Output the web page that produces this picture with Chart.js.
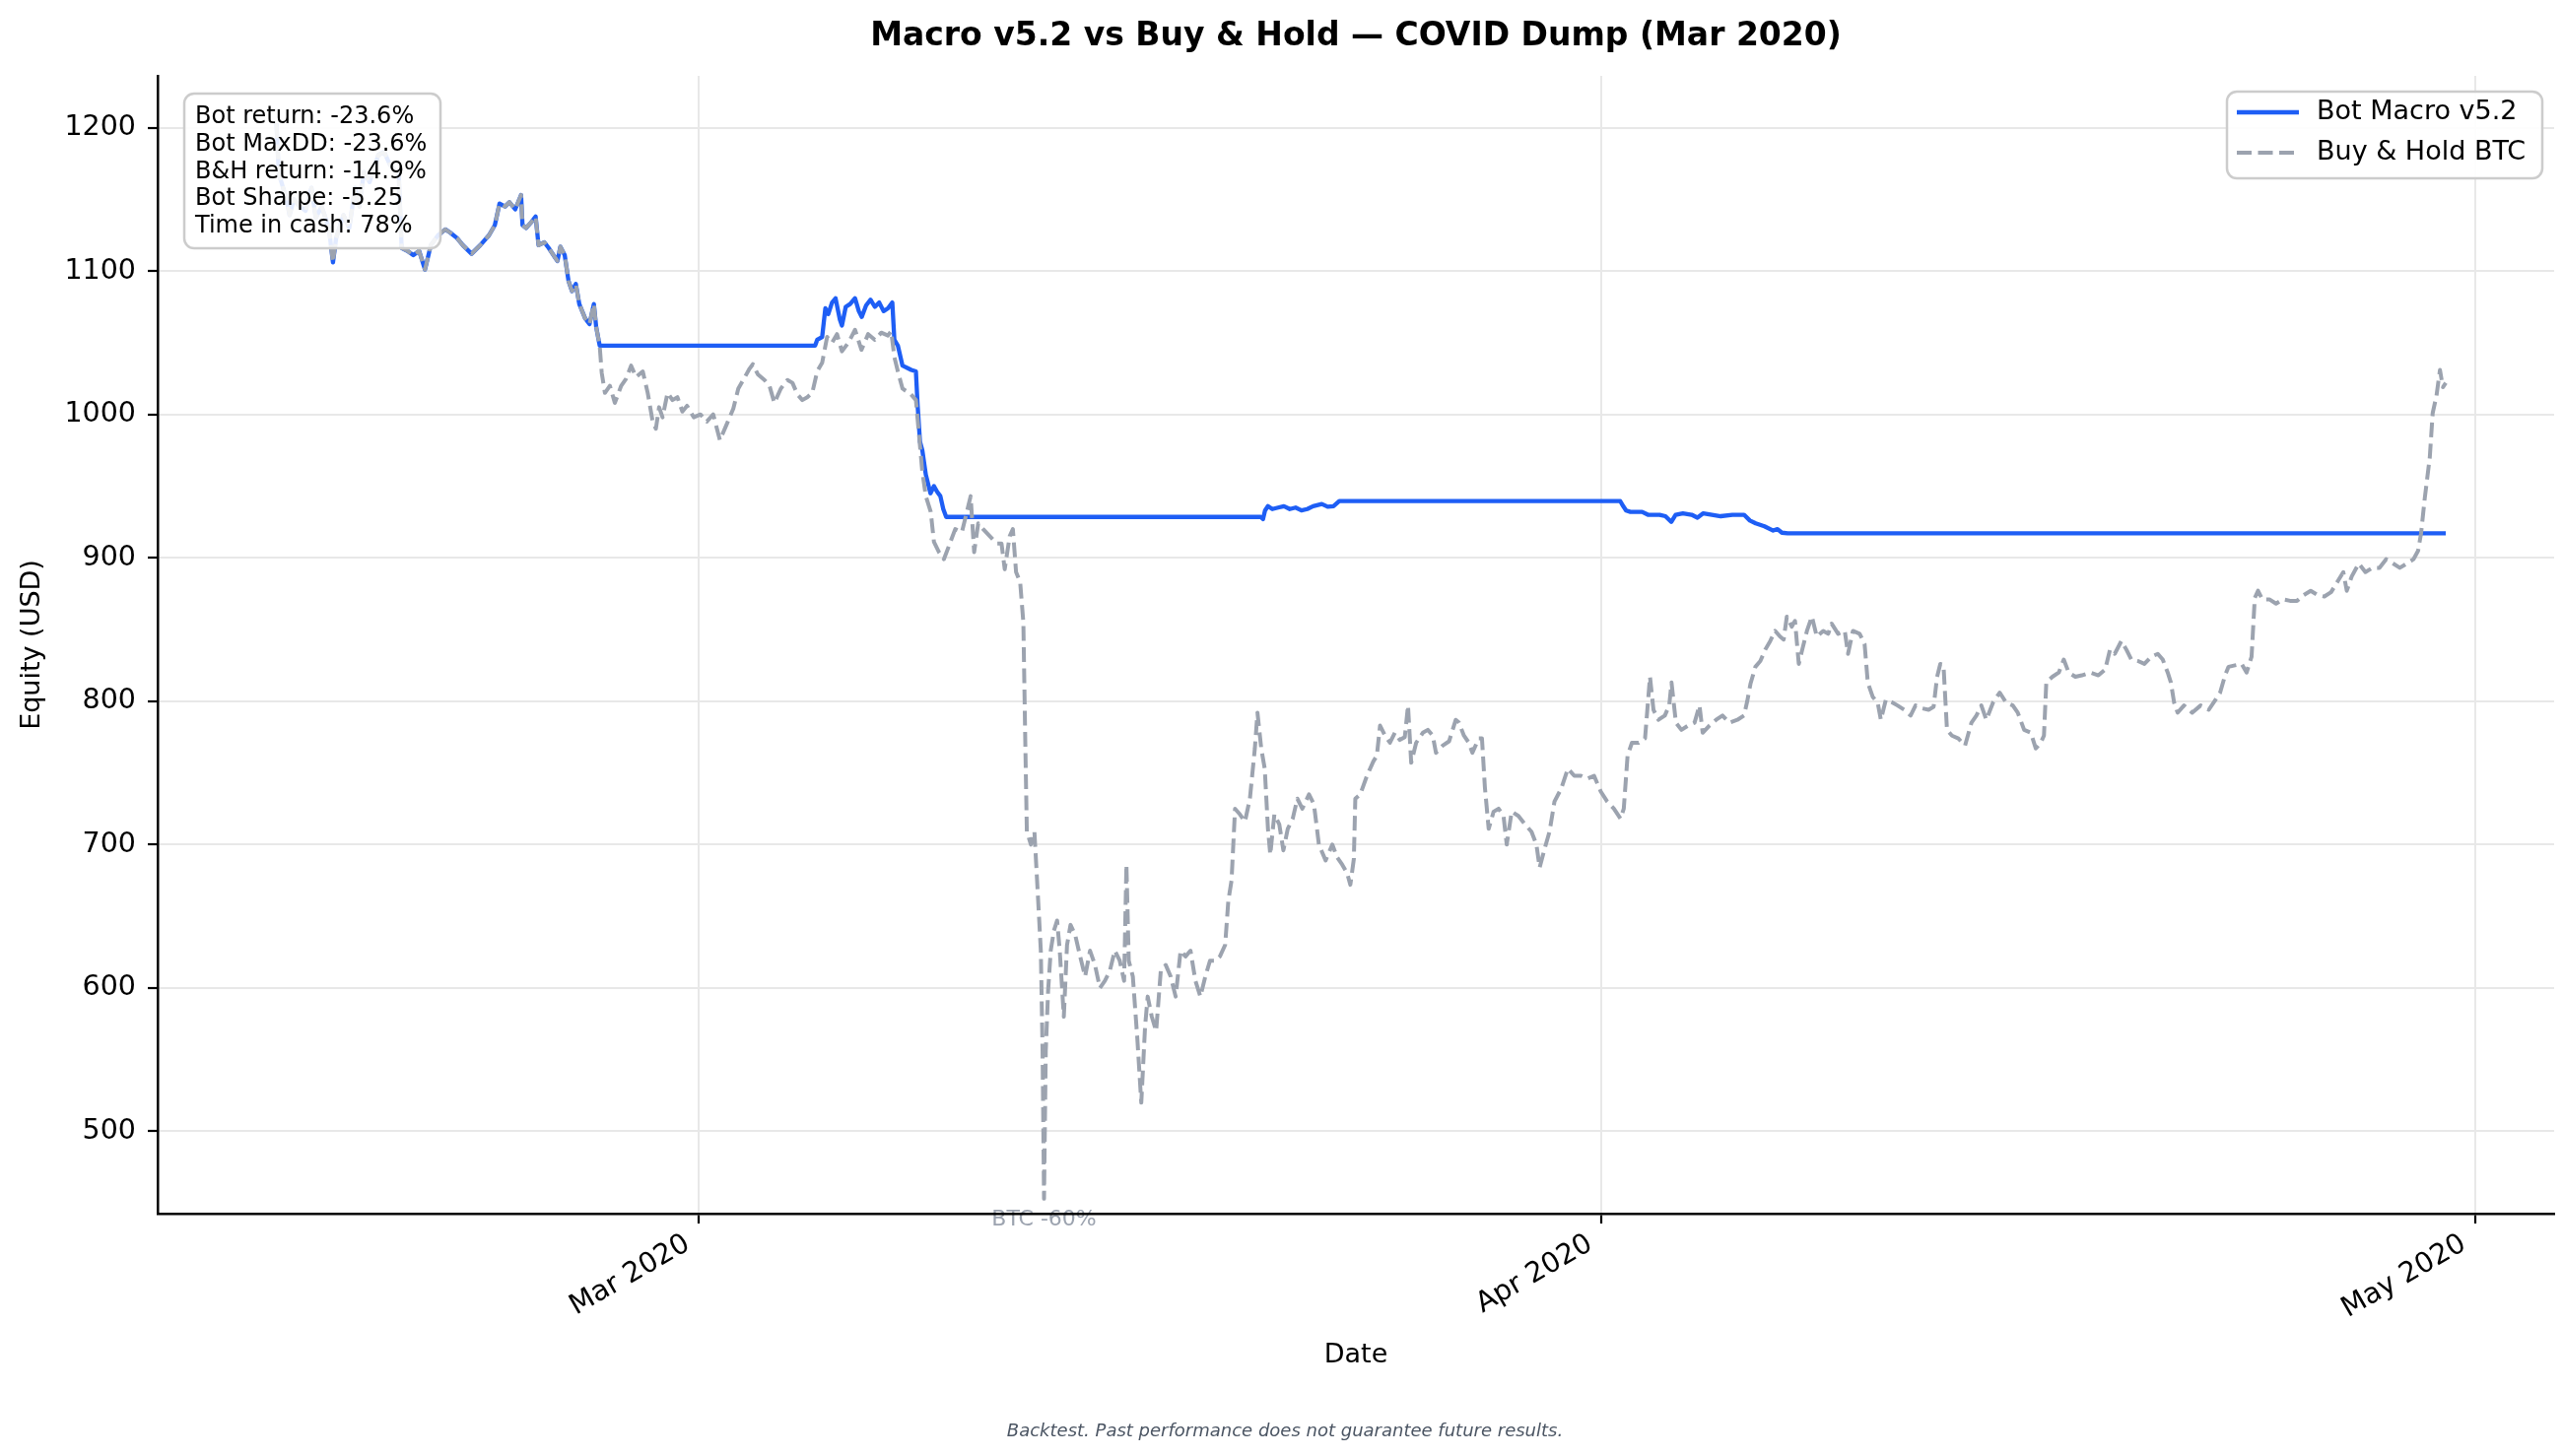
<!DOCTYPE html>
<html>
<head>
<meta charset="utf-8">
<title>Macro v5.2 vs Buy &amp; Hold</title>
<script src="https://cdn.jsdelivr.net/npm/chart.js@4.4.1/dist/chart.umd.min.js"></script>
<style>
  html, body { margin: 0; padding: 0; background: #fff; overflow: hidden; }
  #wrap { width: 2600px; height: 1478px; position: relative; }
</style>
</head>
<body>
<div id="wrap"><canvas id="equityChart"></canvas></div>
<script>
// x values are days counted from 1 Mar 2020 00:00

// stretch where the bot is fully invested and tracks BTC exactly
const sharedDays = [
  -14.5, -14.42, -14.3, -14.15, -14.05, -13.9, -13.7, -13.5, -13.3, -13.15,
  -12.95, -12.7, -12.56, -12.45, -12.2, -12.0, -11.8, -11.65, -11.5, -11.3,
  -11.0, -10.8, -10.6, -10.3, -10.2, -10.0, -9.8, -9.6, -9.4, -9.2,
  -8.95, -8.7, -8.55, -8.3, -8.1, -7.8, -7.5, -7.2, -7.0, -6.84,
  -6.65, -6.5, -6.3, -6.1, -6.05, -5.93, -5.75, -5.6, -5.5, -5.3,
  -5.15, -4.92, -4.85, -4.75, -4.6, -4.47, -4.35, -4.22, -4.1, -3.9,
  -3.75, -3.6, -3.52, -3.4
];
const sharedValues = [
  1203, 1168, 1160, 1150, 1139, 1150, 1145, 1142, 1158, 1137,
  1145, 1130, 1106, 1123, 1139, 1130, 1158, 1145, 1169, 1162,
  1181, 1183, 1174, 1167, 1116, 1114, 1111, 1114, 1101, 1118,
  1125, 1129, 1127, 1123, 1118, 1112, 1118, 1125, 1132, 1147,
  1145, 1148, 1143, 1153, 1132, 1130, 1134, 1138, 1118, 1120,
  1116, 1109, 1107, 1117, 1111, 1093, 1086, 1091, 1077, 1067,
  1063, 1077, 1061, 1048
];

// Buy & Hold BTC after the bot first goes to cash
const bhDays = [
  -3.33, -3.22, -3.05, -2.88, -2.66, -2.49, -2.32, -2.15, -1.92, -1.75,
  -1.58, -1.47, -1.36, -1.24, -1.07, -0.9, -0.73, -0.56, -0.4, -0.17,
  0.06, 0.28, 0.5, 0.73, 0.96, 1.19, 1.36, 1.53, 1.75, 1.86,
  2.03, 2.26, 2.43, 2.6, 2.82, 3.05, 3.22, 3.39, 3.56, 3.73,
  3.9, 4.07, 4.24, 4.41, 4.58, 4.75, 4.92, 5.14, 5.37, 5.59,
  5.82, 6.05, 6.27, 6.5, 6.61, 6.72, 6.84, 7.0, 7.29, 7.46,
  7.57, 7.68, 7.8, 7.97, 8.08, 8.25, 8.42, 8.59, 8.81, 9.04,
  9.21, 9.34, 9.46, 9.6, 9.77, 10.0, 10.23, 10.4, 10.51, 10.68,
  10.79, 10.9, 11.04, 11.15, 11.22, 11.27, 11.41, 11.53, 11.64, 11.75,
  11.81, 11.86, 11.92, 12.0, 12.09, 12.2, 12.31, 12.4, 12.54, 12.65,
  12.77, 12.93, 13.1, 13.27, 13.44, 13.61, 13.78, 13.95, 14.12, 14.29,
  14.46, 14.61, 14.69, 14.77, 14.91, 15.06, 15.2, 15.33, 15.42, 15.56,
  15.71, 15.87, 16.04, 16.21, 16.38, 16.55, 16.72, 16.89, 17.06, 17.23,
  17.4, 17.56, 17.74, 17.9, 18.08, 18.19, 18.3, 18.42, 18.59, 18.76,
  18.93, 19.1, 19.19, 19.32, 19.44, 19.55, 19.63, 19.77, 19.94, 20.08,
  20.23, 20.4, 20.56, 20.73, 20.96, 21.13, 21.3, 21.53,
  21.76, 21.93, 22.1, 22.27, 22.38, 22.5, 22.55, 22.72, 22.95, 23.17,
  23.29, 23.4, 23.57, 23.74, 23.91, 24.08, 24.25, 24.36, 24.47, 24.64,
  24.87, 25.04, 25.21, 25.32, 25.55, 25.77, 26.0, 26.11, 26.28, 26.45,
  26.57, 26.79, 26.9, 27.0, 27.13, 27.3, 27.47, 27.64, 27.75, 27.92,
  28.15, 28.38, 28.6, 28.77, 28.88, 29.05, 29.22, 29.39, 29.62, 29.85,
  30.07, 30.3, 30.52, 30.75, 30.98, 31.2, 31.43, 31.66, 31.77, 31.9,
  32.05, 32.28, 32.5, 32.67, 32.79, 32.96, 33.18, 33.33, 33.41, 33.56,
  33.75, 33.98, 34.2, 34.37, 34.48, 34.71, 34.94, 35.16, 35.39, 35.67,
  35.9, 36.01, 36.12, 36.29, 36.46, 36.63, 36.8, 36.97, 37.14, 37.26,
  37.37, 37.54, 37.65, 37.78,
  37.9, 38.06, 38.23, 38.4, 38.62, 38.79, 38.91, 39.13, 39.36, 39.47,
  39.64, 39.87, 40.04, 40.15, 40.32, 40.49, 40.6, 40.77, 41.0, 41.17,
  41.4, 41.62, 41.79, 42.02, 42.24, 42.41, 42.53, 42.64, 42.75, 42.87,
  43.04, 43.26, 43.49, 43.71, 43.88, 44.05, 44.22, 44.45, 44.68, 44.9,
  45.13, 45.3, 45.52, 45.75, 45.92, 46.09, 46.2, 46.28, 46.49, 46.71,
  46.88, 47.05, 47.28, 47.5, 47.79, 48.07, 48.3, 48.47, 48.63, 48.86,
  49.03, 49.2, 49.43, 49.65, 49.88, 50.11, 50.28, 50.45, 50.56, 50.67,
  50.79, 51.01, 51.29, 51.58, 51.86, 52.09, 52.25, 52.42, 52.54, 52.76,
  52.99, 53.16, 53.33, 53.44,
  53.55, 53.7, 53.94, 54.17, 54.41, 54.65, 54.89, 55.12, 55.36, 55.6,
  55.83, 56.06, 56.3, 56.48, 56.6, 56.77, 57.01, 57.24, 57.48, 57.72,
  57.95, 58.19, 58.42, 58.66, 58.89, 59.05, 59.15, 59.28, 59.45, 59.55,
  59.68, 59.8, 59.9, 60.0
];
const bhValues = [
  1029, 1015, 1020, 1008, 1020, 1025, 1034, 1026, 1030, 1015,
  995, 990, 1005, 998, 1015, 1010, 1012, 1002, 1006, 998,
  1000, 995, 1000, 982, 993, 1004, 1018, 1024, 1032, 1035,
  1028, 1024, 1020, 1008, 1018, 1024, 1022, 1014, 1010, 1012,
  1015, 1030, 1036, 1054, 1050, 1056, 1044, 1050, 1059, 1045,
  1056, 1052, 1057, 1055, 1058, 1040, 1030, 1018, 1014, 1010,
  985, 960, 943, 932, 911, 904, 899, 908, 920, 918,
  932, 943, 904, 924, 920, 915, 910, 910, 892, 915,
  920, 890, 883, 855, 767, 709, 700, 709, 668, 626,
  556, 453, 556, 598, 626, 640, 647, 626, 580, 630,
  644, 637, 622, 608, 626, 616, 600, 605, 612, 626,
  619, 605, 686, 619, 608, 566, 520, 573, 594, 580,
  570, 612, 616, 608, 594, 626, 622, 626, 605, 594,
  608, 619, 619, 622, 630, 661, 675, 725, 721, 716,
  732, 767, 792, 767, 753, 711, 693, 721, 714, 696,
  711, 718, 732, 725, 735, 728, 700, 689,
  700, 691, 686, 680, 672, 690, 732, 735, 748, 758,
  762, 783, 776, 771, 778, 773, 775, 797, 757, 771,
  778, 780, 776, 764, 769, 772, 787, 785, 776, 771,
  764, 774, 774, 740, 711, 723, 725, 720, 700, 723,
  720, 714, 709, 700, 684, 697, 709, 730, 739, 753,
  748, 748, 746, 748, 737, 730, 725, 718, 725, 762,
  771, 771, 774, 817, 794, 787, 790, 797, 813, 785,
  780, 783, 785, 797, 778, 783, 787, 790, 785, 787,
  790, 800, 812, 824, 828, 836, 842, 849, 845, 843,
  859, 852, 856, 826,
  836, 849, 859, 845, 849, 847, 854, 847, 849, 833,
  849, 847, 840, 813, 803, 799, 787, 801, 799, 797,
  794, 790, 797, 795, 794, 796, 817, 826, 825, 780,
  776, 774, 769, 785, 790, 797, 787, 799, 806, 799,
  797, 792, 780, 778, 767, 771, 776, 813, 817, 820,
  829, 820, 817, 818, 820, 818, 822, 836, 833, 842,
  836, 829, 828, 826, 831, 833, 829, 820, 813, 799,
  792, 797, 792, 797, 794, 801, 806, 818, 824, 825,
  826, 820, 831, 872,
  877, 871, 871, 868, 871, 870, 870, 874, 877, 874,
  873, 876, 884, 890, 877, 887, 896, 890, 893, 893,
  899, 896, 893, 896, 899, 905, 917, 942, 970, 1001,
  1013, 1031, 1019, 1022
];

// Bot Macro v5.2 after the first exit
const botDays = [
  4.0, 4.07, 4.24, 4.35, 4.45, 4.58, 4.7, 4.85, 4.92, 5.05,
  5.2, 5.37, 5.5, 5.6, 5.75, 5.9, 6.05, 6.2, 6.35, 6.5,
  6.65, 6.72, 6.84, 7.0, 7.3, 7.46, 7.52, 7.6, 7.68, 7.8,
  7.96, 8.08, 8.19, 8.3, 8.4, 8.5, 19.3, 19.38, 19.45, 19.55,
  19.7, 19.9, 20.1, 20.3, 20.5, 20.7, 20.9, 21.1, 21.4, 21.6,
  21.8, 22.0, 31.65, 31.75, 31.85, 32.0, 32.4, 32.6, 33.0, 33.2,
  33.4, 33.55, 33.8, 34.1, 34.3, 34.5, 34.8, 35.1, 35.5, 35.9,
  36.1, 36.3, 36.6, 36.9, 37.05, 37.2, 37.4, 60.0
];
const botValues = [
  1048, 1052, 1054, 1074, 1070, 1078, 1081, 1066, 1062, 1075,
  1077, 1081, 1072, 1068, 1076, 1080, 1075, 1078, 1072, 1074,
  1078, 1052, 1048, 1034, 1031, 1030, 1006, 981, 975, 958,
  945, 950, 946, 943, 934, 928.5, 928.5, 927, 933, 936,
  934, 935, 936, 934, 935, 933, 934, 936, 937.5, 935.6,
  936, 939.5, 939.5, 936, 933, 932, 932, 930, 930, 929,
  925, 930, 931, 930, 928, 931, 930, 929, 930, 930,
  926, 924, 922, 919, 920, 917.5, 917, 917
];

const monthTicks = [0, 31, 61];
const monthLabels = ['Mar 2020', 'Apr 2020', 'May 2020'];
const equityTicks = [500, 600, 700, 800, 900, 1000, 1100, 1200];

const statsLines = [
  'Bot return: -23.6%',
  'Bot MaxDD: -23.6%',
  'B&H return: -14.9%',
  'Bot Sharpe: -5.25',
  'Time in cash: 78%'
];
const dumpNote = { day: 11.86, value: 453, text: 'BTC -60%' };

const FONT = '"DejaVu Sans", sans-serif';

function toPoints(days, values) {
  return days.map((d, i) => ({ x: d, y: values[i] }));
}

function boxPath(ctx, x, y, w, h, r) {
  ctx.beginPath();
  ctx.moveTo(x + r, y);
  ctx.arcTo(x + w, y, x + w, y + h, r);
  ctx.arcTo(x + w, y + h, x, y + h, r);
  ctx.arcTo(x, y + h, x, y, r);
  ctx.arcTo(x, y, x + w, y, r);
  ctx.closePath();
}

// title, stats box, legend, crash note and footnote
const overlay = {
  id: 'overlay',
  beforeDraw(chart) {
    // drawn before the axes so the spine sits over the note
    const { ctx, scales: { x, y } } = chart;
    ctx.save();
    ctx.font = '22px ' + FONT;
    ctx.fillStyle = '#9ca3af';
    ctx.textAlign = 'center';
    ctx.textBaseline = 'middle';
    ctx.fillText(dumpNote.text, x.getPixelForValue(dumpNote.day), y.getPixelForValue(dumpNote.value) + 21);
    ctx.restore();
  },
  afterDatasetsDraw(chart) {
    const ctx = chart.ctx;
    ctx.save();

    // stats box, top left
    boxPath(ctx, 187, 95, 260, 157, 10);
    ctx.fillStyle = 'rgba(255,255,255,0.88)';
    ctx.fill();
    ctx.lineWidth = 2.5;
    ctx.strokeStyle = '#cccccc';
    ctx.stroke();
    ctx.fillStyle = '#000';
    ctx.font = '24px ' + FONT;
    ctx.textAlign = 'left';
    ctx.textBaseline = 'alphabetic';
    statsLines.forEach((line, i) => ctx.fillText(line, 198, 125 + i * 27.75));

    // legend, top right
    boxPath(ctx, 2260, 93, 320, 88, 10);
    ctx.fillStyle = 'rgba(255,255,255,0.88)';
    ctx.fill();
    ctx.lineWidth = 2.5;
    ctx.strokeStyle = '#cccccc';
    ctx.stroke();
    ctx.font = '27px ' + FONT;
    ctx.textBaseline = 'middle';
    chart.data.datasets.forEach((ds, i) => {
      const cy = 114 + i * 41;
      ctx.setLineDash(ds.borderDash || []);
      ctx.lineWidth = ds.borderWidth;
      ctx.strokeStyle = ds.borderColor;
      ctx.beginPath();
      ctx.moveTo(2270, cy);
      ctx.lineTo(2333, cy);
      ctx.stroke();
      ctx.setLineDash([]);
      ctx.fillStyle = '#000';
      ctx.fillText(ds.label, 2351, cy);
    });
    ctx.restore();
  },
  afterDraw(chart) {
    const { ctx, chartArea } = chart;
    ctx.save();
    ctx.textAlign = 'center';
    ctx.textBaseline = 'middle';
    ctx.fillStyle = '#000';
    ctx.font = 'bold 33px ' + FONT;
    ctx.fillText('Macro v5.2 vs Buy & Hold \u2014 COVID Dump (Mar 2020)', (chartArea.left + chartArea.right) / 2, 37);
    ctx.fillStyle = '#4b5563';
    ctx.font = 'italic 18px ' + FONT;
    ctx.fillText('Backtest. Past performance does not guarantee future results.', 1304, 1453);
    ctx.restore();
  }
};

document.addEventListener('DOMContentLoaded', () => {
  const ctx = document.getElementById('equityChart').getContext('2d');

  new Chart(ctx, {
    type: 'line',
    data: {
      datasets: [
        {
          label: 'Bot Macro v5.2',
          data: toPoints(sharedDays.concat(botDays), sharedValues.concat(botValues)),
          borderColor: '#1e5ef5',
          borderWidth: 4.3,
          borderJoinStyle: 'round',
          order: 1
        },
        {
          label: 'Buy & Hold BTC',
          data: toPoints(sharedDays.concat(bhDays), sharedValues.concat(bhValues)),
          borderColor: '#9ca3af',
          borderWidth: 4,
          borderDash: [15, 6.5],
          borderJoinStyle: 'round',
          order: 0 // drawn over the bot line
        }
      ]
    },
    options: {
      responsive: true,
      maintainAspectRatio: false,
      animation: false,
      events: [],
      layout: { padding: { top: 77, right: 8, bottom: 0, left: 0 } },
      elements: {
        point: { radius: 0 },
        line: { tension: 0, fill: false }
      },
      plugins: {
        legend: { display: false },
        title: { display: false },
        tooltip: { enabled: false }
      },
      scales: {
        x: {
          type: 'linear',
          min: -18.58,
          max: 63.72,
          bounds: 'data',
          afterBuildTicks: (scale) => { scale.ticks = monthTicks.map(v => ({ value: v })); },
          afterFit: (scale) => { scale.height = 246; },
          ticks: {
            callback: (v, i) => monthLabels[i],
            autoSkip: false,
            minRotation: 30,
            maxRotation: 30,
            labelOffset: -11,
            padding: 4,
            color: '#000',
            font: { family: FONT, size: 28.5 }
          },
          grid: {
            color: '#e8e8e8',
            lineWidth: 2,
            tickColor: '#000',
            tickWidth: 2.2,
            tickLength: 10
          },
          border: { display: true, color: '#000', width: 2.5 },
          title: {
            display: true,
            text: 'Date',
            color: '#000',
            font: { family: FONT, size: 27 },
            padding: { top: 0, bottom: 86 }
          }
        },
        y: {
          type: 'linear',
          min: 442.6,
          max: 1236.1,
          bounds: 'data',
          afterBuildTicks: (scale) => { scale.ticks = equityTicks.map(v => ({ value: v })); },
          afterFit: (scale) => { scale.width = 160; },
          ticks: {
            callback: (v) => String(v),
            padding: 12,
            color: '#000',
            font: { family: FONT, size: 28.5 }
          },
          grid: {
            color: '#e8e8e8',
            lineWidth: 2,
            tickColor: '#000',
            tickWidth: 2.2,
            tickLength: 10
          },
          border: { display: true, color: '#000', width: 2.5 },
          title: {
            display: true,
            text: 'Equity (USD)',
            color: '#000',
            font: { family: FONT, size: 27 },
            padding: { top: 17, bottom: 0 }
          }
        }
      }
    },
    plugins: [overlay]
  });
});
</script>
</body>
</html>
